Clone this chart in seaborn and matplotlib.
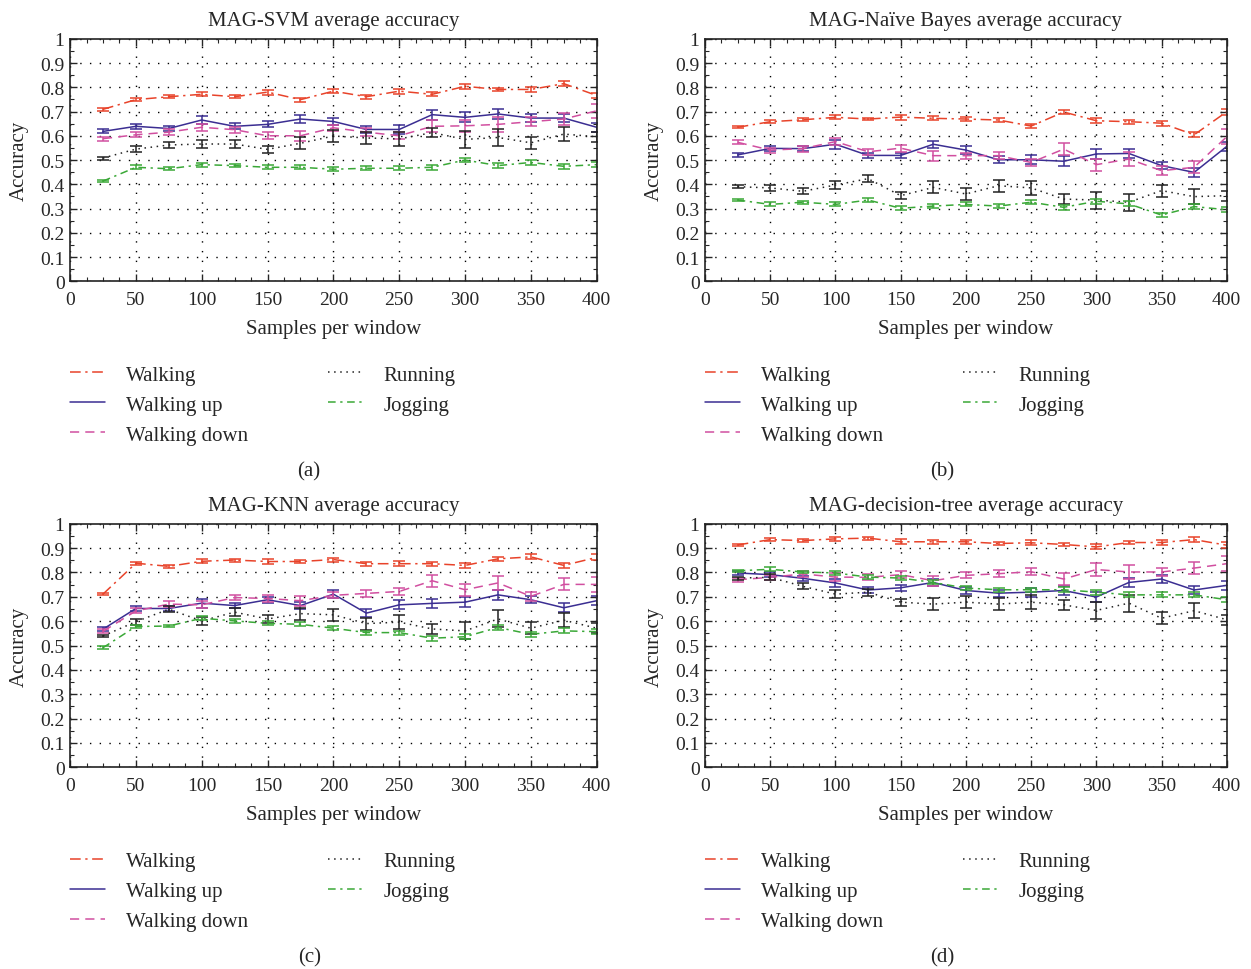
import numpy as np
import pandas as pd
import seaborn as sns
import matplotlib.pyplot as plt
from matplotlib.ticker import MultipleLocator, FuncFormatter

OUT_PATH = 'out.png'

samples = [25, 50, 75, 100, 125, 150, 175, 200, 225, 250, 275, 300, 325, 350, 375, 400]
activities = ['Walking', 'Walking up', 'Walking down', 'Running', 'Jogging']
titles = ['MAG-SVM average accuracy', 'MAG-Naïve Bayes average accuracy',
          'MAG-KNN average accuracy', 'MAG-decision-tree average accuracy']
captions = ['(a)', '(b)', '(c)', '(d)']

# (a) SVM
svm_walking = [0.709, 0.749, 0.761, 0.771, 0.761, 0.780, 0.749, 0.784, 0.761, 0.784, 0.771, 0.804, 0.791, 0.791, 0.815, 0.766]
svm_walk_up = [0.618, 0.639, 0.630, 0.665, 0.639, 0.647, 0.669, 0.659, 0.626, 0.626, 0.687, 0.676, 0.690, 0.673, 0.673, 0.635]
svm_walk_down = [0.588, 0.604, 0.615, 0.635, 0.625, 0.600, 0.600, 0.633, 0.615, 0.600, 0.639, 0.641, 0.647, 0.658, 0.669, 0.703]
svm_running = [0.508, 0.545, 0.562, 0.566, 0.566, 0.544, 0.569, 0.599, 0.591, 0.587, 0.613, 0.585, 0.593, 0.571, 0.607, 0.596]
svm_jogging = [0.413, 0.470, 0.464, 0.481, 0.477, 0.470, 0.470, 0.462, 0.466, 0.466, 0.470, 0.500, 0.477, 0.490, 0.474, 0.481]

# (b) Naive Bayes
nb_walking = [0.635, 0.658, 0.666, 0.676, 0.669, 0.677, 0.672, 0.669, 0.665, 0.640, 0.698, 0.662, 0.658, 0.652, 0.604, 0.699]
nb_walk_up = [0.521, 0.548, 0.547, 0.565, 0.519, 0.519, 0.565, 0.541, 0.501, 0.501, 0.495, 0.525, 0.527, 0.477, 0.449, 0.556]
nb_walk_down = [0.573, 0.541, 0.547, 0.576, 0.534, 0.549, 0.518, 0.518, 0.518, 0.490, 0.545, 0.481, 0.504, 0.456, 0.470, 0.596]
nb_running = [0.390, 0.385, 0.371, 0.397, 0.423, 0.353, 0.387, 0.360, 0.394, 0.385, 0.339, 0.335, 0.326, 0.374, 0.349, 0.353]
nb_jogging = [0.335, 0.317, 0.326, 0.317, 0.335, 0.301, 0.310, 0.317, 0.310, 0.326, 0.305, 0.330, 0.319, 0.273, 0.308, 0.295]

# (c) KNN
knn_walking = [0.711, 0.838, 0.825, 0.846, 0.851, 0.845, 0.845, 0.853, 0.836, 0.836, 0.836, 0.829, 0.856, 0.864, 0.829, 0.862]
knn_walk_up = [0.567, 0.652, 0.652, 0.674, 0.664, 0.688, 0.664, 0.711, 0.633, 0.667, 0.673, 0.678, 0.708, 0.688, 0.655, 0.684]
knn_walk_down = [0.558, 0.642, 0.670, 0.667, 0.697, 0.693, 0.684, 0.706, 0.714, 0.722, 0.766, 0.729, 0.757, 0.702, 0.751, 0.751]
knn_running = [0.539, 0.598, 0.649, 0.601, 0.637, 0.609, 0.631, 0.626, 0.590, 0.596, 0.568, 0.560, 0.609, 0.571, 0.604, 0.571]
knn_jogging = [0.491, 0.578, 0.580, 0.612, 0.601, 0.591, 0.587, 0.571, 0.553, 0.553, 0.530, 0.536, 0.574, 0.546, 0.560, 0.557]

# (d) decision tree
dt_walking = [0.913, 0.935, 0.931, 0.938, 0.941, 0.926, 0.926, 0.926, 0.919, 0.922, 0.915, 0.905, 0.923, 0.923, 0.935, 0.912]
dt_walk_up = [0.798, 0.791, 0.776, 0.757, 0.728, 0.737, 0.759, 0.726, 0.715, 0.719, 0.726, 0.699, 0.759, 0.773, 0.728, 0.747]
dt_walk_down = [0.770, 0.780, 0.794, 0.781, 0.780, 0.791, 0.766, 0.788, 0.795, 0.803, 0.773, 0.812, 0.802, 0.802, 0.818, 0.836]
dt_running = [0.777, 0.780, 0.743, 0.711, 0.719, 0.678, 0.670, 0.678, 0.670, 0.678, 0.667, 0.644, 0.674, 0.612, 0.643, 0.606]
dt_jogging = [0.807, 0.813, 0.802, 0.798, 0.781, 0.777, 0.759, 0.736, 0.729, 0.729, 0.729, 0.719, 0.708, 0.708, 0.708, 0.688]

# error bar half widths (per activity, shared pattern across panels)
err_walking = [0.005, 0.006, 0.006, 0.008, 0.006, 0.010, 0.008, 0.008, 0.008, 0.010, 0.008, 0.010, 0.008, 0.010, 0.010, 0.012]
err_walk_up = [0.008, 0.010, 0.010, 0.018, 0.012, 0.012, 0.015, 0.015, 0.015, 0.018, 0.020, 0.020, 0.020, 0.015, 0.018, 0.018]
err_walk_down = [0.008, 0.010, 0.012, 0.015, 0.012, 0.015, 0.020, 0.012, 0.015, 0.015, 0.025, 0.025, 0.030, 0.018, 0.025, 0.030]
err_running = [0.006, 0.012, 0.012, 0.015, 0.015, 0.015, 0.025, 0.025, 0.025, 0.030, 0.020, 0.035, 0.035, 0.025, 0.030, 0.020]
err_jogging = [0.005, 0.008, 0.006, 0.008, 0.007, 0.008, 0.008, 0.008, 0.008, 0.008, 0.010, 0.010, 0.010, 0.010, 0.010, 0.010]

panels = [
    [svm_walking, svm_walk_up, svm_walk_down, svm_running, svm_jogging],
    [nb_walking, nb_walk_up, nb_walk_down, nb_running, nb_jogging],
    [knn_walking, knn_walk_up, knn_walk_down, knn_running, knn_jogging],
    [dt_walking, dt_walk_up, dt_walk_down, dt_running, dt_jogging],
]
errors = [err_walking, err_walk_up, err_walk_down, err_running, err_jogging]

colors = ['#e8432a', '#3b2e92', '#d14fa0', '#222222', '#3aa837']
styles = [(0, (7, 3, 1.5, 3)), '-', (0, (6, 4)), (0, (1, 3)), (0, (5, 3, 1.5, 3))]


def fmt_acc(v, pos):
    if abs(v) < 1e-9:
        return '0'
    if abs(v - 1) < 1e-9:
        return '1'
    return '%.1f' % v


sns.set_style('ticks')
plt.rcParams['font.family'] = ['Liberation Serif', 'DejaVu Serif']
plt.rcParams['xtick.direction'] = 'in'
plt.rcParams['ytick.direction'] = 'in'

fig = plt.figure(figsize=(12.51, 9.70), dpi=100)
positions = [(0.056, 0.709, 0.421, 0.250), (0.5636, 0.709, 0.417, 0.250),
             (0.056, 0.208, 0.421, 0.251), (0.5636, 0.208, 0.417, 0.251)]

for i, series in enumerate(panels):
    ax = fig.add_axes(positions[i])
    df = pd.DataFrame({'x': samples * 5,
                       'y': sum(series, []),
                       'err': sum(errors, []),
                       'act': sum([[a] * len(samples) for a in activities], [])})
    for j, act in enumerate(activities):
        sub = df[df['act'] == act]
        sns.lineplot(data=sub, x='x', y='y', ax=ax, color=colors[j], linestyle=styles[j],
                     linewidth=1.1, label=act, legend=False)
        ax.errorbar(sub['x'], sub['y'], yerr=sub['err'], fmt='none', ecolor=colors[j],
                    elinewidth=1.1, capsize=4, capthick=1.1)
    ax.set_xlim(0, 400)
    ax.set_ylim(0, 1)
    ax.xaxis.set_major_locator(MultipleLocator(50))
    ax.xaxis.set_minor_locator(MultipleLocator(12.5))
    ax.yaxis.set_major_locator(MultipleLocator(0.1))
    ax.yaxis.set_minor_locator(MultipleLocator(0.05))
    ax.yaxis.set_major_formatter(FuncFormatter(fmt_acc))
    ax.tick_params(which='both', top=True, right=True, labelsize=14)
    ax.tick_params(axis='x', which='major', pad=7)
    ax.tick_params(axis='y', which='major', pad=4)
    ax.tick_params(which='major', length=5, width=1)
    ax.tick_params(which='minor', length=3, width=0.8)
    ax.grid(True, which='major', color='black', linestyle=(0, (1, 6)), linewidth=1)
    for sp in ax.spines.values():
        sp.set_linewidth(1.2)
        sp.set_color('#222222')
    ax.set_title(titles[i], fontsize=15, pad=10)
    ax.set_xlabel('Samples per window', fontsize=15, labelpad=8)
    ax.set_ylabel('Accuracy', fontsize=15, labelpad=8)

    ax.legend(loc='upper left', bbox_to_anchor=(0.0, -0.345), ncol=2, frameon=False,
              fontsize=15, handlelength=1.7, handletextpad=1.0, columnspacing=3.8,
              labelspacing=0.5, borderpad=0, borderaxespad=0)
    ax.text(0.454, -0.78, captions[i], transform=ax.transAxes, ha='center', va='center',
            fontsize=15)

fig.savefig(OUT_PATH, dpi=100)
print('saved', OUT_PATH)
